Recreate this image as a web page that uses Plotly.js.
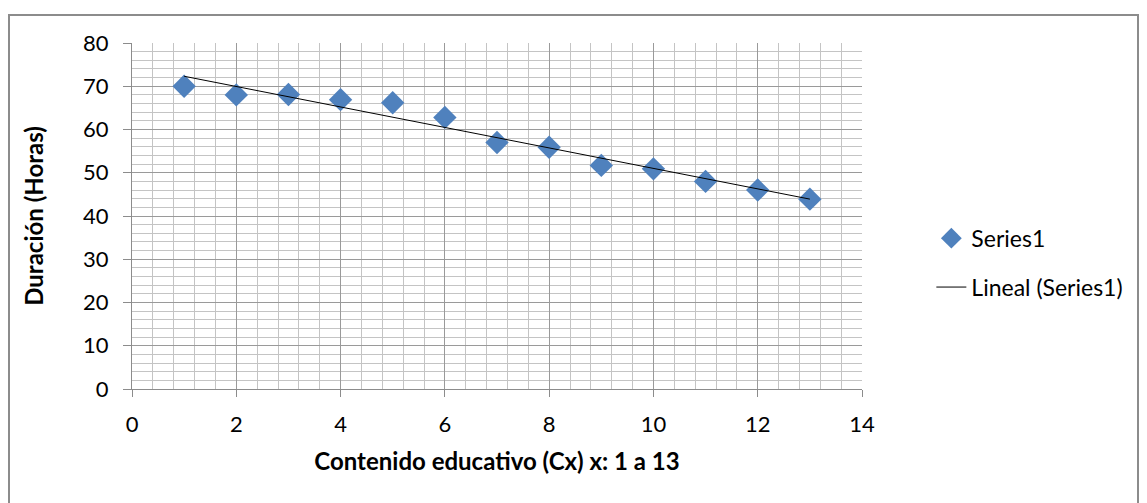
<!DOCTYPE html>
<html>
<head>
<meta charset="utf-8">
<script src="https://cdn.plot.ly/plotly-3.0.1.min.js"></script>
<style>
  html, body { margin: 0; padding: 0; background: #fff; }
  #wrap { position: relative; width: 1147px; height: 503px; overflow: hidden; }
  #chart { width: 1147px; height: 503px; }
  #frame { position: absolute; left: 8px; top: 14px; width: 1131px; height: 520px;
           border: 2px solid #8c8c8c; pointer-events: none; box-sizing: border-box; }
</style>
</head>
<body>
<div id="wrap">
  <div id="chart"></div>
  <div id="frame"></div>
</div>
<script>
// Data
const contenido = [1, 2, 3, 4, 5, 6, 7, 8, 9, 10, 11, 12, 13];
const duracion  = [70, 68, 68.1, 66.9, 66.2, 62.8, 57, 55.9, 51.7, 50.9, 48, 46, 43.9];
const seriesName = 'Series1';
const trendName = 'Lineal (Series1)';
const xTitle = 'Contenido educativo (Cx) x: 1 a 13';
const yTitle = 'Duración (Horas)';

// Linear trend line (least squares) from the series
const n = contenido.length;
const mx = contenido.reduce((a, b) => a + b, 0) / n;
const my = duracion.reduce((a, b) => a + b, 0) / n;
let sxy = 0, sxx = 0;
for (let i = 0; i < n; i++) { sxy += (contenido[i] - mx) * (duracion[i] - my); sxx += (contenido[i] - mx) ** 2; }
const slope = sxy / sxx, icpt = my - slope * mx;
const trendX = [contenido[0], contenido[n - 1]];
const trendY = trendX.map(x => icpt + slope * x);

const FONT = 'Lato, "Open Sans", sans-serif';

const traces = [
  {
    x: contenido, y: duracion, type: 'scatter', mode: 'markers', name: seriesName,
    legendgroup: 'a',
    marker: { symbol: 'diamond', size: 18, color: '#4F81BD' }
  },
  {
    x: trendX, y: trendY, type: 'scatter', mode: 'lines', name: trendName,
    legendgroup: 'b',
    line: { color: '#000000', width: 1 }
  }
];

const layout = {
  width: 1147, height: 503,
  margin: { l: 132, r: 285, t: 43, b: 114, pad: 0 },
  paper_bgcolor: '#ffffff', plot_bgcolor: '#ffffff',
  font: { family: FONT, size: 22, color: '#000' },
  showlegend: true,
  legend: {
    x: 1.095, y: 0.365, xanchor: 'left', yanchor: 'middle',
    font: { family: FONT, size: 23, color: '#000' },
    tracegroupgap: 16, traceorder: 'grouped',
    bgcolor: 'rgba(0,0,0,0)', itemwidth: 30
  },
  xaxis: {
    range: [0, 14], dtick: 2, tick0: 0,
    showline: true, linecolor: '#8c8c8c', linewidth: 1,
    ticks: 'outside', ticklen: 7, tickcolor: '#8c8c8c',
    showgrid: true, gridcolor: '#9a9a9a', gridwidth: 1,
    minor: { dtick: 0.4, showgrid: true, gridcolor: '#c4c4c4', gridwidth: 1 },
    zeroline: false, ticklabelstandoff: 9,
    tickfont: { family: FONT, size: 22 },
    title: { text: xTitle, font: { family: FONT, size: 24, weight: 'bold' }, standoff: 16 }
  },
  yaxis: {
    range: [0, 80], dtick: 10, tick0: 0,
    showline: true, linecolor: '#8c8c8c', linewidth: 1,
    ticks: 'outside', ticklen: 8, tickcolor: '#8c8c8c',
    showgrid: true, gridcolor: '#9a9a9a', gridwidth: 1,
    minor: { dtick: 2, showgrid: true, gridcolor: '#c4c4c4', gridwidth: 1 },
    zeroline: false, ticklabelstandoff: 10,
    tickfont: { family: FONT, size: 22 },
    title: { text: yTitle, font: { family: FONT, size: 24, weight: 'bold' }, standoff: 32 }
  }
};

Plotly.newPlot('chart', traces, layout, { displayModeBar: false, staticPlot: true });
</script>
</body>
</html>
